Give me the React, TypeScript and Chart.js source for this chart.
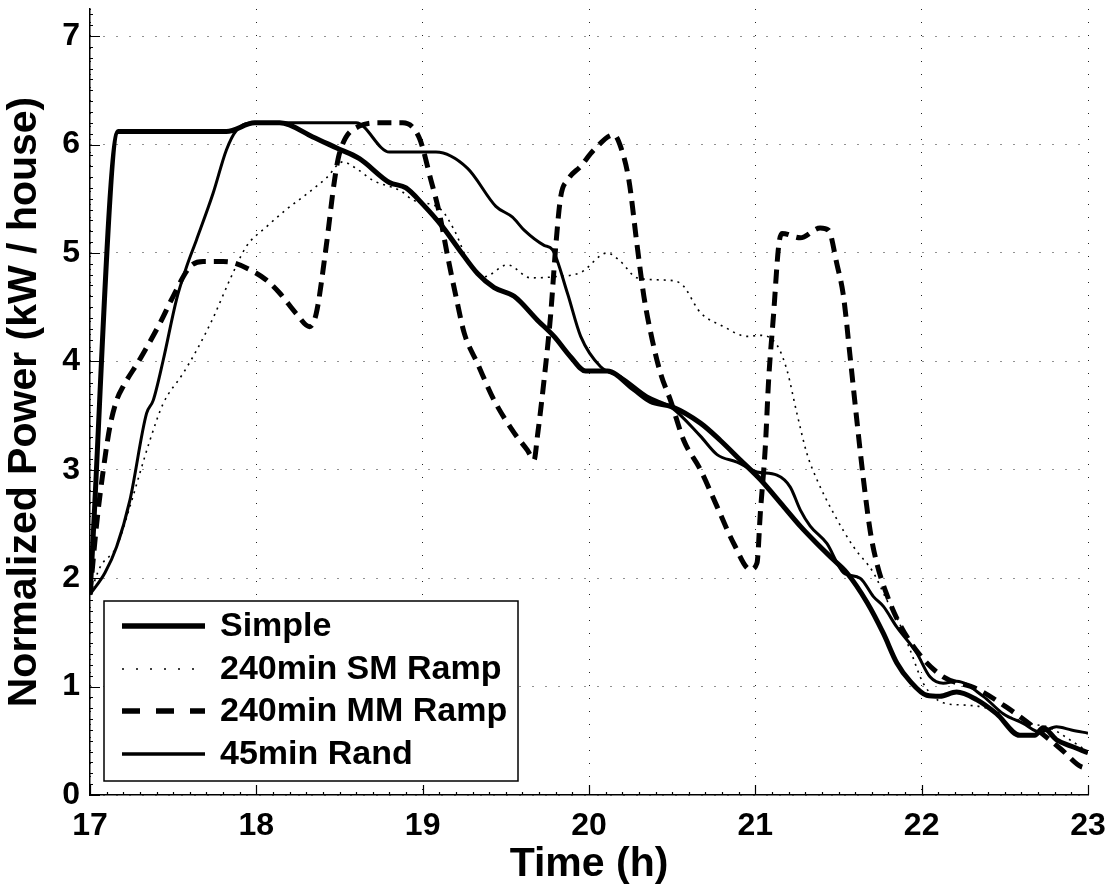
import React, { useEffect, useRef } from "react";
import { Chart, registerables } from "chart.js";

Chart.register(...registerables);

// ---- data ----
const xTickValues = [17, 18, 19, 20, 21, 22, 23];
const yTickValues = [0, 1, 2, 3, 4, 5, 6, 7];
const xTitle = "Time (h)";
const yTitle = "Normalized Power (kW / house)";
const seriesNames = ["Simple", "240min SM Ramp", "240min MM Ramp", "45min Rand"];

const simpleTime = [17.0, 17.17, 17.82, 17.99, 18.14, 18.34, 18.48, 18.62, 18.8, 18.9, 19.0, 19.12, 19.22, 19.33, 19.43, 19.55, 19.69, 19.79, 19.89, 19.98, 20.11, 20.27, 20.37, 20.5, 20.67, 20.79, 20.91, 21.03, 21.17, 21.27, 21.37, 21.47, 21.55, 21.67, 21.77, 21.85, 21.93, 22.03, 22.11, 22.21, 22.33, 22.45, 22.59, 22.68, 22.73, 22.81, 22.9, 23.0];
const simplePower = [1.85, 6.12, 6.12, 6.2, 6.2, 6.07, 5.97, 5.87, 5.65, 5.6, 5.45, 5.24, 5.03, 4.81, 4.68, 4.6, 4.38, 4.23, 4.04, 3.91, 3.91, 3.74, 3.63, 3.58, 3.43, 3.27, 3.09, 2.91, 2.66, 2.48, 2.32, 2.17, 2.05, 1.78, 1.49, 1.22, 1.05, 0.92, 0.91, 0.95, 0.88, 0.75, 0.55, 0.55, 0.62, 0.51, 0.45, 0.39];

const smTime = [17.0, 17.06, 17.16, 17.24, 17.3, 17.36, 17.44, 17.56, 17.64, 17.74, 17.84, 17.94, 18.06, 18.18, 18.3, 18.42, 18.52, 18.6, 18.7, 18.87, 18.94, 19.11, 19.19, 19.29, 19.37, 19.51, 19.65, 19.79, 19.95, 20.11, 20.19, 20.29, 20.45, 20.55, 20.67, 20.81, 20.95, 21.03, 21.13, 21.19, 21.25, 21.31, 21.37, 21.47, 21.59, 21.71, 21.79, 21.85, 21.93, 22.01, 22.13, 22.25, 22.37, 22.53, 22.65, 22.77, 22.9, 23.0];
const smPower = [1.85, 2.1, 2.29, 2.66, 2.97, 3.27, 3.61, 3.89, 4.1, 4.4, 4.75, 5.06, 5.24, 5.4, 5.54, 5.69, 5.84, 5.78, 5.67, 5.57, 5.49, 5.4, 5.21, 4.87, 4.78, 4.89, 4.77, 4.78, 4.82, 5.0, 4.92, 4.77, 4.75, 4.72, 4.45, 4.32, 4.23, 4.24, 4.15, 3.92, 3.52, 3.15, 2.91, 2.6, 2.29, 2.05, 1.8, 1.64, 1.34, 1.03, 0.85, 0.83, 0.81, 0.72, 0.66, 0.62, 0.5, 0.4];

const mmTime = [17.0, 17.04, 17.08, 17.12, 17.16, 17.2, 17.3, 17.42, 17.5, 17.6, 17.68, 17.8, 17.86, 17.98, 18.06, 18.14, 18.24, 18.32, 18.36, 18.42, 18.47, 18.5, 18.62, 18.74, 18.88, 18.98, 19.05, 19.1, 19.15, 19.2, 19.25, 19.33, 19.43, 19.55, 19.63, 19.67, 19.69, 19.73, 19.77, 19.8, 19.83, 19.87, 19.95, 20.03, 20.15, 20.19, 20.24, 20.29, 20.33, 20.38, 20.43, 20.49, 20.57, 20.67, 20.77, 20.87, 20.97, 21.01, 21.03, 21.06, 21.08, 21.11, 21.14, 21.16, 21.27, 21.39, 21.44, 21.49, 21.53, 21.57, 21.61, 21.65, 21.69, 21.73, 21.79, 21.87, 21.99, 22.13, 22.33, 22.51, 22.67, 22.84, 22.96, 23.0];
const mmPower = [1.85, 2.5, 3.0, 3.4, 3.64, 3.77, 4.02, 4.35, 4.6, 4.87, 4.92, 4.92, 4.91, 4.83, 4.75, 4.63, 4.44, 4.32, 4.44, 5.06, 5.67, 5.92, 6.17, 6.2, 6.2, 6.06, 5.67, 5.37, 4.97, 4.6, 4.26, 3.98, 3.64, 3.34, 3.18, 3.09, 3.31, 3.83, 4.44, 5.06, 5.52, 5.67, 5.8, 5.95, 6.09, 5.98, 5.67, 5.06, 4.6, 4.2, 3.89, 3.64, 3.27, 3.0, 2.66, 2.32, 2.08, 2.14, 2.6, 3.21, 3.83, 4.44, 5.06, 5.18, 5.14, 5.23, 5.21, 4.9, 4.6, 4.04, 3.46, 2.91, 2.44, 2.14, 1.85, 1.57, 1.29, 1.09, 0.98, 0.81, 0.63, 0.42, 0.26, 0.25];

const randTime = [17.0, 17.09, 17.16, 17.24, 17.34, 17.38, 17.44, 17.52, 17.58, 17.64, 17.74, 17.82, 17.88, 17.99, 18.6, 18.8, 19.08, 19.27, 19.44, 19.54, 19.61, 19.73, 19.78, 19.87, 19.95, 20.07, 20.19, 20.35, 20.5, 20.67, 20.77, 20.89, 21.01, 21.13, 21.21, 21.27, 21.33, 21.43, 21.53, 21.63, 21.71, 21.77, 21.85, 21.97, 22.05, 22.13, 22.21, 22.37, 22.49, 22.61, 22.71, 22.81, 22.9, 23.0];
const randPower = [1.85, 2.05, 2.29, 2.72, 3.52, 3.64, 4.01, 4.57, 4.87, 5.12, 5.55, 5.95, 6.13, 6.2, 6.2, 5.93, 5.93, 5.78, 5.43, 5.33, 5.21, 5.07, 5.03, 4.63, 4.23, 3.95, 3.86, 3.68, 3.57, 3.31, 3.14, 3.07, 2.98, 2.95, 2.84, 2.63, 2.48, 2.32, 2.05, 2.0, 1.83, 1.74, 1.55, 1.31, 1.09, 1.03, 1.05, 0.91, 0.75, 0.66, 0.58, 0.63, 0.6, 0.57];

// ---- styles ----
const FONT = "'Liberation Sans', Arial, sans-serif";
const lineStyles = [
  { width: 5, dash: [] as number[], legendWidth: 5.5, legendDash: [] as number[] },
  { width: 1.6, dash: [2, 5], legendWidth: 1.6, legendDash: [2, 12] },
  { width: 5, dash: [14, 8], legendWidth: 5.5, legendDash: [18, 16] },
  { width: 3, dash: [] as number[], legendWidth: 3.5, legendDash: [] as number[] },
];

const toPoints = (xs: number[], ys: number[]) => xs.map((x, i) => ({ x, y: ys[i] }));

const inwardTicks = {
  id: "inwardTicks",
  afterDatasetsDraw(chart: any) {
    const { ctx, chartArea, scales } = chart;
    const xs = scales.x;
    const ys = scales.y;
    ctx.save();
    ctx.strokeStyle = "#000";
    ctx.lineWidth = 1.2;
    ctx.beginPath();
    for (let v = 17; v <= 23.0001; v += 0.1) {
      const px = Math.round(xs.getPixelForValue(v)) + 0.5;
      const major = Math.abs(v - Math.round(v)) < 1e-6;
      const len = major ? 10 : 3;
      ctx.moveTo(px, chartArea.bottom);
      ctx.lineTo(px, chartArea.bottom - len);
    }
    for (let v = 0; v <= 7.2; v += 0.1) {
      const py = Math.round(ys.getPixelForValue(v)) + 0.5;
      const major = Math.abs(v - Math.round(v)) < 1e-6;
      const len = major ? 10 : 3;
      ctx.moveTo(chartArea.left, py);
      ctx.lineTo(chartArea.left + len, py);
    }
    ctx.stroke();
    ctx.restore();
  },
};

const legendBox = {
  id: "legendBox",
  afterDraw(chart: any) {
    const { ctx, chartArea } = chart;
    const bx = chartArea.left + 14;
    const bw = 414;
    const bh = 180;
    const by = chartArea.bottom - 14 - bh;
    ctx.save();
    ctx.fillStyle = "#fff";
    ctx.fillRect(bx, by, bw, bh);
    ctx.strokeStyle = "#000";
    ctx.lineWidth = 1.5;
    ctx.strokeRect(bx, by, bw, bh);
    const rows = [25, 68, 110, 153];
    ctx.font = `bold 34px ${FONT}`;
    ctx.textBaseline = "middle";
    ctx.textAlign = "left";
    seriesNames.forEach((name, i) => {
      const y = by + rows[i];
      const st = lineStyles[i];
      ctx.beginPath();
      ctx.setLineDash(st.legendDash);
      ctx.lineWidth = st.legendWidth;
      ctx.lineCap = "butt";
      ctx.moveTo(bx + 18, y);
      ctx.lineTo(bx + 101, y);
      ctx.stroke();
      ctx.setLineDash([]);
      ctx.fillStyle = "#000";
      ctx.fillText(name, bx + 116, y + 1);
    });
    ctx.restore();
  },
};

export default function App() {
  const ref = useRef<HTMLCanvasElement | null>(null);
  useEffect(() => {
    if (!ref.current) return;
    const seriesData = [
      toPoints(simpleTime, simplePower),
      toPoints(smTime, smPower),
      toPoints(mmTime, mmPower),
      toPoints(randTime, randPower),
    ];
    const chart = new Chart(ref.current, {
      type: "line",
      data: {
        datasets: seriesNames.map((name, i) => ({
          label: name,
          data: seriesData[i],
          borderColor: "#000",
          backgroundColor: "#000",
          borderWidth: lineStyles[i].width,
          borderDash: lineStyles[i].dash,
          pointRadius: 0,
          fill: false,
          cubicInterpolationMode: "monotone" as const,
          order: 4 - i,
        })),
      },
      options: {
        responsive: false,
        animation: false,
        devicePixelRatio: 1,
        layout: { padding: { left: 0, right: 28, top: 9, bottom: 0 } },
        plugins: { legend: { display: false }, tooltip: { enabled: false } },
        scales: {
          x: {
            type: "linear",
            min: 17,
            max: 23,
            afterBuildTicks: (s: any) => {
              s.ticks = xTickValues.map((v) => ({ value: v }));
            },
            afterFit: (s: any) => {
              s.height = 94;
              s.paddingLeft = 0;
              s.paddingRight = 0;
            },
            ticks: {
              color: "#000",
              padding: 12,
              maxRotation: 0,
              font: { family: FONT, size: 32, weight: "bold" },
            },
            grid: { color: "#222", lineWidth: 1, drawTicks: false },
            border: { display: true, color: "#000", width: 1.5, dash: [1, 12] },
            title: {
              display: true,
              text: xTitle,
              color: "#000",
              font: { family: FONT, size: 41, weight: "bold" },
              padding: { top: 0, bottom: 0 },
            },
          },
          y: {
            type: "linear",
            min: 0,
            max: 7.25,
            afterBuildTicks: (s: any) => {
              s.ticks = yTickValues.map((v) => ({ value: v }));
            },
            afterFit: (s: any) => {
              s.width = 90;
              s.paddingTop = 0;
              s.paddingBottom = 0;
            },
            ticks: {
              color: "#000",
              padding: 10,
              font: { family: FONT, size: 32, weight: "bold" },
            },
            grid: { color: "#222", lineWidth: 1, drawTicks: false },
            border: { display: true, color: "#000", width: 1.5, dash: [1, 12] },
            title: {
              display: true,
              text: yTitle,
              color: "#000",
              font: { family: FONT, size: 41, weight: "bold" },
              padding: { top: 0, bottom: 0 },
            },
          },
        },
      },
      plugins: [inwardTicks, legendBox],
    });
    return () => chart.destroy();
  }, []);
  return (
    <div style={{ position: "absolute", left: 0, top: 0, width: 1116, height: 889, background: "#fff" }}>
      <canvas ref={ref} width={1116} height={889} style={{ width: 1116, height: 889 }} />
    </div>
  );
}
